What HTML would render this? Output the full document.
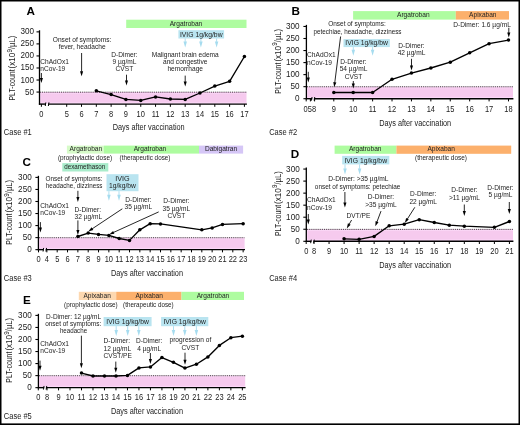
<!DOCTYPE html>
<html><head><meta charset="utf-8"><style>
html,body{margin:0;padding:0;background:#fff;}
body{width:520px;height:425px;overflow:hidden;}
svg{display:block;font-family:"Liberation Sans", sans-serif;will-change:transform;}
text{stroke:none;}
</style></head><body>
<svg width="520" height="425" viewBox="0 0 520 425">
<rect x="0" y="0" width="520" height="425" fill="#fff"/>
<g>
<text x="26.4" y="15.4" font-size="11.7" font-weight="bold" fill="#000">A</text>
<rect x="126.20" y="19.70" width="120.30" height="8.30" fill="#aefca0"/>
<text transform="translate(186.00,25.65) scale(1.03,1)" font-size="6.4" text-anchor="middle" fill="#222">Argatroban</text>
<rect x="178.40" y="30.20" width="45.70" height="8.30" fill="#b9e4f0"/>
<text x="179.95" y="37.00" font-size="6.7" fill="#222" textLength="42.60" lengthAdjust="spacingAndGlyphs">IVIG 1g/kg/bw</text>
<line x1="185.20" y1="38.50" x2="185.20" y2="41.90" stroke="#a6dcef" stroke-width="0.9" />
<polygon points="185.20,47.40 183.45,41.40 186.95,41.40" fill="#a6dcef"/>
<line x1="200.90" y1="38.50" x2="200.90" y2="41.90" stroke="#a6dcef" stroke-width="0.9" />
<polygon points="200.90,47.40 199.15,41.40 202.65,41.40" fill="#a6dcef"/>
<line x1="216.60" y1="38.50" x2="216.60" y2="41.90" stroke="#a6dcef" stroke-width="0.9" />
<polygon points="216.60,47.40 214.85,41.40 218.35,41.40" fill="#a6dcef"/>
<rect x="40.00" y="92.06" width="206.50" height="11.44" fill="#f6caee"/>
<rect x="40.10" y="102.30" width="206.40" height="1.10" fill="#fcd8f8"/>
<rect x="40.10" y="92.66" width="1.00" height="10.74" fill="#fcd8f8"/>
<rect x="40.10" y="92.76" width="206.40" height="0.80" fill="#fcd8f8"/>
<line x1="40.10" y1="92.16" x2="246.50" y2="92.16" stroke="#111" stroke-width="0.8" stroke-dasharray="1.0 0.9"/>
<line x1="39.50" y1="30.26" x2="39.50" y2="104.80" stroke="#000" stroke-width="1.3" />
<line x1="36.50" y1="92.06" x2="39.50" y2="92.06" stroke="#000" stroke-width="1.1" />
<text transform="translate(34.00,94.56) scale(0.97,1)" font-size="8.4" text-anchor="end" fill="#222">50</text>
<line x1="36.50" y1="80.02" x2="39.50" y2="80.02" stroke="#000" stroke-width="1.1" />
<text transform="translate(34.00,82.52) scale(0.97,1)" font-size="8.4" text-anchor="end" fill="#222">100</text>
<line x1="36.50" y1="67.98" x2="39.50" y2="67.98" stroke="#000" stroke-width="1.1" />
<text transform="translate(34.00,70.48) scale(0.97,1)" font-size="8.4" text-anchor="end" fill="#222">150</text>
<line x1="36.50" y1="55.94" x2="39.50" y2="55.94" stroke="#000" stroke-width="1.1" />
<text transform="translate(34.00,58.44) scale(0.97,1)" font-size="8.4" text-anchor="end" fill="#222">200</text>
<line x1="36.50" y1="43.90" x2="39.50" y2="43.90" stroke="#000" stroke-width="1.1" />
<text transform="translate(34.00,46.40) scale(0.97,1)" font-size="8.4" text-anchor="end" fill="#222">250</text>
<line x1="36.50" y1="31.86" x2="39.50" y2="31.86" stroke="#000" stroke-width="1.1" />
<text transform="translate(34.00,34.36) scale(0.97,1)" font-size="8.4" text-anchor="end" fill="#222">300</text>
<line x1="38.90" y1="104.10" x2="46.00" y2="104.10" stroke="#000" stroke-width="1.4" />
<line x1="48.10" y1="104.10" x2="246.90" y2="104.10" stroke="#000" stroke-width="1.4" />
<line x1="45.25" y1="106.00" x2="45.85" y2="102.40" stroke="#000" stroke-width="1.0" />
<line x1="48.35" y1="106.00" x2="48.95" y2="102.40" stroke="#000" stroke-width="1.0" />
<line x1="41.40" y1="104.10" x2="41.40" y2="106.80" stroke="#000" stroke-width="1.0" />
<text transform="translate(41.40,116.90) scale(0.88,1)" font-size="8.5" text-anchor="middle" fill="#222">0</text>
<line x1="66.70" y1="104.10" x2="66.70" y2="106.80" stroke="#000" stroke-width="1.0" />
<text transform="translate(66.70,116.90) scale(0.88,1)" font-size="8.5" text-anchor="middle" fill="#222">5</text>
<line x1="81.51" y1="104.10" x2="81.51" y2="106.80" stroke="#000" stroke-width="1.0" />
<text transform="translate(81.51,116.90) scale(0.88,1)" font-size="8.5" text-anchor="middle" fill="#222">6</text>
<line x1="96.32" y1="104.10" x2="96.32" y2="106.80" stroke="#000" stroke-width="1.0" />
<text transform="translate(96.32,116.90) scale(0.88,1)" font-size="8.5" text-anchor="middle" fill="#222">7</text>
<line x1="111.13" y1="104.10" x2="111.13" y2="106.80" stroke="#000" stroke-width="1.0" />
<text transform="translate(111.13,116.90) scale(0.88,1)" font-size="8.5" text-anchor="middle" fill="#222">8</text>
<line x1="125.94" y1="104.10" x2="125.94" y2="106.80" stroke="#000" stroke-width="1.0" />
<text transform="translate(125.94,116.90) scale(0.88,1)" font-size="8.5" text-anchor="middle" fill="#222">9</text>
<line x1="140.75" y1="104.10" x2="140.75" y2="106.80" stroke="#000" stroke-width="1.0" />
<text transform="translate(140.75,116.90) scale(0.88,1)" font-size="8.5" text-anchor="middle" fill="#222">10</text>
<line x1="155.56" y1="104.10" x2="155.56" y2="106.80" stroke="#000" stroke-width="1.0" />
<text transform="translate(155.56,116.90) scale(0.88,1)" font-size="8.5" text-anchor="middle" fill="#222">11</text>
<line x1="170.37" y1="104.10" x2="170.37" y2="106.80" stroke="#000" stroke-width="1.0" />
<text transform="translate(170.37,116.90) scale(0.88,1)" font-size="8.5" text-anchor="middle" fill="#222">12</text>
<line x1="185.18" y1="104.10" x2="185.18" y2="106.80" stroke="#000" stroke-width="1.0" />
<text transform="translate(185.18,116.90) scale(0.88,1)" font-size="8.5" text-anchor="middle" fill="#222">13</text>
<line x1="199.99" y1="104.10" x2="199.99" y2="106.80" stroke="#000" stroke-width="1.0" />
<text transform="translate(199.99,116.90) scale(0.88,1)" font-size="8.5" text-anchor="middle" fill="#222">14</text>
<line x1="214.80" y1="104.10" x2="214.80" y2="106.80" stroke="#000" stroke-width="1.0" />
<text transform="translate(214.80,116.90) scale(0.88,1)" font-size="8.5" text-anchor="middle" fill="#222">15</text>
<line x1="229.61" y1="104.10" x2="229.61" y2="106.80" stroke="#000" stroke-width="1.0" />
<text transform="translate(229.61,116.90) scale(0.88,1)" font-size="8.5" text-anchor="middle" fill="#222">16</text>
<line x1="244.42" y1="104.10" x2="244.42" y2="106.80" stroke="#000" stroke-width="1.0" />
<text transform="translate(244.42,116.90) scale(0.88,1)" font-size="8.5" text-anchor="middle" fill="#222">17</text>
<text transform="translate(14.90,100.50) rotate(-90)" font-size="8.5" fill="#222" textLength="31.10" lengthAdjust="spacingAndGlyphs">PLT-count</text>
<text transform="translate(14.90,68.40) rotate(-90)" font-size="8.5" fill="#222" textLength="15.70" lengthAdjust="spacingAndGlyphs">(x10</text>
<text transform="translate(11.50,52.50) rotate(-90)" font-size="6.6" fill="#222" textLength="3.50" lengthAdjust="spacingAndGlyphs">9</text>
<text transform="translate(14.90,49.00) rotate(-90)" font-size="8.5" fill="#222" textLength="13.30" lengthAdjust="spacingAndGlyphs">/µL)</text>
<text x="112.70" y="129.90" font-size="9.7" fill="#222" textLength="72.00" lengthAdjust="spacingAndGlyphs">Days after vaccination</text>
<text x="3.80" y="134.80" font-size="8.4" fill="#222" textLength="28.00" lengthAdjust="spacingAndGlyphs">Case #1</text>
<text transform="translate(82.10,41.50) scale(0.93,1)" font-size="7.1" text-anchor="middle" fill="#222">Onset of symptoms:</text>
<text transform="translate(82.10,48.80) scale(0.93,1)" font-size="7.1" text-anchor="middle" fill="#222">fever, headache</text>
<line x1="81.60" y1="53.00" x2="81.60" y2="71.70" stroke="#000" stroke-width="0.85" />
<polygon points="81.60,76.20 80.05,71.20 83.15,71.20" fill="#000"/>
<text transform="translate(40.30,63.50) scale(0.93,1)" font-size="7.1" text-anchor="start" fill="#222">ChAdOx1</text>
<text transform="translate(40.30,70.80) scale(0.93,1)" font-size="7.1" text-anchor="start" fill="#222">nCov-19</text>
<line x1="41.40" y1="73.00" x2="41.40" y2="78.50" stroke="#000" stroke-width="0.85" />
<polygon points="41.40,83.00 39.85,78.00 42.95,78.00" fill="#000"/>
<text transform="translate(124.40,56.50) scale(0.93,1)" font-size="7.1" text-anchor="middle" fill="#222">D-Dimer:</text>
<text transform="translate(124.40,63.80) scale(0.93,1)" font-size="7.1" text-anchor="middle" fill="#222">9 µg/mL</text>
<text transform="translate(124.40,71.10) scale(0.93,1)" font-size="7.1" text-anchor="middle" fill="#222">CVST</text>
<line x1="126.50" y1="74.70" x2="126.50" y2="81.00" stroke="#000" stroke-width="0.85" />
<polygon points="126.50,85.50 124.95,80.50 128.05,80.50" fill="#000"/>
<text transform="translate(185.20,56.60) scale(0.93,1)" font-size="7.1" text-anchor="middle" fill="#222">Malignant brain edema</text>
<text transform="translate(185.20,63.95) scale(0.93,1)" font-size="7.1" text-anchor="middle" fill="#222">and congestive</text>
<text transform="translate(185.20,71.30) scale(0.93,1)" font-size="7.1" text-anchor="middle" fill="#222">hemorrhage</text>
<line x1="185.20" y1="75.60" x2="185.20" y2="81.90" stroke="#000" stroke-width="0.85" />
<polygon points="185.20,86.40 183.65,81.40 186.75,81.40" fill="#000"/>
<polyline fill="none" stroke="#000" stroke-width="1.35" stroke-linejoin="round" points="96.32,90.80 111.13,94.60 125.94,99.40 140.75,100.40 155.56,96.90 170.37,99.00 185.18,99.40 199.99,93.00 214.80,86.10 229.61,81.30 244.42,56.50"/>
<circle cx="96.32" cy="90.80" r="1.75" fill="#000"/>
<circle cx="111.13" cy="94.60" r="1.75" fill="#000"/>
<circle cx="125.94" cy="99.40" r="1.75" fill="#000"/>
<circle cx="140.75" cy="100.40" r="1.75" fill="#000"/>
<circle cx="155.56" cy="96.90" r="1.75" fill="#000"/>
<circle cx="170.37" cy="99.00" r="1.75" fill="#000"/>
<circle cx="185.18" cy="99.40" r="1.75" fill="#000"/>
<circle cx="199.99" cy="93.00" r="1.75" fill="#000"/>
<circle cx="214.80" cy="86.10" r="1.75" fill="#000"/>
<circle cx="229.61" cy="81.30" r="1.75" fill="#000"/>
<circle cx="244.42" cy="56.50" r="1.75" fill="#000"/>
<text x="291.4" y="15.4" font-size="11.7" font-weight="bold" fill="#000">B</text>
<rect x="353.10" y="11.10" width="102.70" height="8.50" fill="#aefca0"/>
<text transform="translate(413.30,17.25) scale(1.03,1)" font-size="6.4" text-anchor="middle" fill="#222">Argatroban</text>
<rect x="455.80" y="11.10" width="53.20" height="8.50" fill="#fcb06c"/>
<text transform="translate(482.80,17.25) scale(1.03,1)" font-size="6.4" text-anchor="middle" fill="#222">Apixaban</text>
<rect x="343.50" y="39.10" width="46.30" height="8.00" fill="#b9e4f0"/>
<text x="345.35" y="44.80" font-size="6.7" fill="#222" textLength="42.60" lengthAdjust="spacingAndGlyphs">IVIG 1g/kg/bw</text>
<line x1="353.30" y1="47.10" x2="353.30" y2="50.30" stroke="#a6dcef" stroke-width="0.9" />
<polygon points="353.30,55.80 351.55,49.80 355.05,49.80" fill="#a6dcef"/>
<line x1="372.60" y1="47.10" x2="372.60" y2="50.30" stroke="#a6dcef" stroke-width="0.9" />
<polygon points="372.60,55.80 370.85,49.80 374.35,49.80" fill="#a6dcef"/>
<rect x="306.90" y="86.66" width="206.10" height="11.44" fill="#f6caee"/>
<rect x="307.00" y="96.90" width="206.00" height="1.10" fill="#fcd8f8"/>
<rect x="307.00" y="87.26" width="1.00" height="10.74" fill="#fcd8f8"/>
<rect x="307.00" y="87.36" width="206.00" height="0.80" fill="#fcd8f8"/>
<line x1="307.00" y1="86.76" x2="513.00" y2="86.76" stroke="#111" stroke-width="0.8" stroke-dasharray="1.0 0.9"/>
<line x1="306.40" y1="24.86" x2="306.40" y2="99.40" stroke="#000" stroke-width="1.3" />
<line x1="303.40" y1="98.70" x2="306.40" y2="98.70" stroke="#000" stroke-width="1.1" />
<text transform="translate(299.60,101.20) scale(0.97,1)" font-size="8.4" text-anchor="end" fill="#222">0</text>
<line x1="303.40" y1="86.66" x2="306.40" y2="86.66" stroke="#000" stroke-width="1.1" />
<text transform="translate(299.60,89.16) scale(0.97,1)" font-size="8.4" text-anchor="end" fill="#222">50</text>
<line x1="303.40" y1="74.62" x2="306.40" y2="74.62" stroke="#000" stroke-width="1.1" />
<text transform="translate(299.60,77.12) scale(0.97,1)" font-size="8.4" text-anchor="end" fill="#222">100</text>
<line x1="303.40" y1="62.58" x2="306.40" y2="62.58" stroke="#000" stroke-width="1.1" />
<text transform="translate(299.60,65.08) scale(0.97,1)" font-size="8.4" text-anchor="end" fill="#222">150</text>
<line x1="303.40" y1="50.54" x2="306.40" y2="50.54" stroke="#000" stroke-width="1.1" />
<text transform="translate(299.60,53.04) scale(0.97,1)" font-size="8.4" text-anchor="end" fill="#222">200</text>
<line x1="303.40" y1="38.50" x2="306.40" y2="38.50" stroke="#000" stroke-width="1.1" />
<text transform="translate(299.60,41.00) scale(0.97,1)" font-size="8.4" text-anchor="end" fill="#222">250</text>
<line x1="303.40" y1="26.46" x2="306.40" y2="26.46" stroke="#000" stroke-width="1.1" />
<text transform="translate(299.60,28.96) scale(0.97,1)" font-size="8.4" text-anchor="end" fill="#222">300</text>
<line x1="305.80" y1="98.70" x2="312.20" y2="98.70" stroke="#000" stroke-width="1.4" />
<line x1="313.90" y1="98.70" x2="513.40" y2="98.70" stroke="#000" stroke-width="1.4" />
<line x1="311.45" y1="100.60" x2="312.05" y2="97.00" stroke="#000" stroke-width="1.0" />
<line x1="314.15" y1="100.60" x2="314.75" y2="97.00" stroke="#000" stroke-width="1.0" />
<line x1="333.80" y1="98.70" x2="333.80" y2="101.40" stroke="#000" stroke-width="1.0" />
<text transform="translate(333.80,111.50) scale(0.88,1)" font-size="8.5" text-anchor="middle" fill="#222">9</text>
<line x1="353.21" y1="98.70" x2="353.21" y2="101.40" stroke="#000" stroke-width="1.0" />
<text transform="translate(353.21,111.50) scale(0.88,1)" font-size="8.5" text-anchor="middle" fill="#222">10</text>
<line x1="372.62" y1="98.70" x2="372.62" y2="101.40" stroke="#000" stroke-width="1.0" />
<text transform="translate(372.62,111.50) scale(0.88,1)" font-size="8.5" text-anchor="middle" fill="#222">11</text>
<line x1="392.03" y1="98.70" x2="392.03" y2="101.40" stroke="#000" stroke-width="1.0" />
<text transform="translate(392.03,111.50) scale(0.88,1)" font-size="8.5" text-anchor="middle" fill="#222">12</text>
<line x1="411.44" y1="98.70" x2="411.44" y2="101.40" stroke="#000" stroke-width="1.0" />
<text transform="translate(411.44,111.50) scale(0.88,1)" font-size="8.5" text-anchor="middle" fill="#222">13</text>
<line x1="430.85" y1="98.70" x2="430.85" y2="101.40" stroke="#000" stroke-width="1.0" />
<text transform="translate(430.85,111.50) scale(0.88,1)" font-size="8.5" text-anchor="middle" fill="#222">14</text>
<line x1="450.26" y1="98.70" x2="450.26" y2="101.40" stroke="#000" stroke-width="1.0" />
<text transform="translate(450.26,111.50) scale(0.88,1)" font-size="8.5" text-anchor="middle" fill="#222">15</text>
<line x1="469.67" y1="98.70" x2="469.67" y2="101.40" stroke="#000" stroke-width="1.0" />
<text transform="translate(469.67,111.50) scale(0.88,1)" font-size="8.5" text-anchor="middle" fill="#222">16</text>
<line x1="489.08" y1="98.70" x2="489.08" y2="101.40" stroke="#000" stroke-width="1.0" />
<text transform="translate(489.08,111.50) scale(0.88,1)" font-size="8.5" text-anchor="middle" fill="#222">17</text>
<line x1="508.49" y1="98.70" x2="508.49" y2="101.40" stroke="#000" stroke-width="1.0" />
<text transform="translate(508.49,111.50) scale(0.88,1)" font-size="8.5" text-anchor="middle" fill="#222">18</text>
<line x1="306.20" y1="98.70" x2="306.20" y2="101.40" stroke="#000" stroke-width="1.0" />
<text transform="translate(306.20,111.50) scale(0.88,1)" font-size="8.5" text-anchor="middle" fill="#222"></text>
<line x1="310.40" y1="98.70" x2="310.40" y2="101.40" stroke="#000" stroke-width="1.0" />
<text transform="translate(310.40,111.50) scale(0.88,1)" font-size="8.5" text-anchor="middle" fill="#222"></text>
<line x1="314.60" y1="98.70" x2="314.60" y2="101.40" stroke="#000" stroke-width="1.0" />
<text transform="translate(314.60,111.50) scale(0.88,1)" font-size="8.5" text-anchor="middle" fill="#222"></text>
<text transform="translate(280.50,93.70) rotate(-90)" font-size="8.5" fill="#222" textLength="31.10" lengthAdjust="spacingAndGlyphs">PLT-count</text>
<text transform="translate(280.50,61.60) rotate(-90)" font-size="8.5" fill="#222" textLength="15.70" lengthAdjust="spacingAndGlyphs">(x10</text>
<text transform="translate(277.10,45.70) rotate(-90)" font-size="6.6" fill="#222" textLength="3.50" lengthAdjust="spacingAndGlyphs">9</text>
<text transform="translate(280.50,42.20) rotate(-90)" font-size="8.5" fill="#222" textLength="13.30" lengthAdjust="spacingAndGlyphs">/µL)</text>
<text x="379.20" y="125.50" font-size="9.7" fill="#222" textLength="72.00" lengthAdjust="spacingAndGlyphs">Days after vaccination</text>
<text x="269.20" y="135.00" font-size="8.4" fill="#222" textLength="28.00" lengthAdjust="spacingAndGlyphs">Case #2</text>
<text transform="translate(309.80,111.50) scale(0.88,1)" font-size="8.5" text-anchor="middle" fill="#222">058</text>
<text x="328.20" y="26.00" font-size="7.1" fill="#222" textLength="57.60" lengthAdjust="spacingAndGlyphs">Onset of symptoms:</text>
<text x="313.50" y="33.50" font-size="7.1" fill="#222" textLength="88.00" lengthAdjust="spacingAndGlyphs">petechiae, headache, dizziness</text>
<line x1="340.60" y1="36.50" x2="334.76" y2="82.74" stroke="#000" stroke-width="0.85" />
<polygon points="334.20,87.20 333.29,82.05 336.36,82.43" fill="#000"/>
<text transform="translate(307.10,57.00) scale(0.93,1)" font-size="7.1" text-anchor="start" fill="#222">ChAdOx1</text>
<text transform="translate(307.10,64.80) scale(0.93,1)" font-size="7.1" text-anchor="start" fill="#222">nCov-19</text>
<line x1="308.30" y1="71.80" x2="308.30" y2="77.90" stroke="#000" stroke-width="0.85" />
<polygon points="308.30,82.40 306.75,77.40 309.85,77.40" fill="#000"/>
<text transform="translate(353.50,63.90) scale(0.93,1)" font-size="7.1" text-anchor="middle" fill="#222">D-Dimer:</text>
<text transform="translate(353.50,71.20) scale(0.93,1)" font-size="7.1" text-anchor="middle" fill="#222">54 µg/mL</text>
<text transform="translate(353.50,78.50) scale(0.93,1)" font-size="7.1" text-anchor="middle" fill="#222">CVST</text>
<line x1="353.30" y1="81.00" x2="353.30" y2="84.00" stroke="#000" stroke-width="0.85" />
<polygon points="353.30,88.50 351.75,83.50 354.85,83.50" fill="#000"/>
<text transform="translate(411.50,47.50) scale(0.93,1)" font-size="7.1" text-anchor="middle" fill="#222">D-Dimer:</text>
<text transform="translate(411.50,55.10) scale(0.93,1)" font-size="7.1" text-anchor="middle" fill="#222">42 µg/mL</text>
<line x1="411.50" y1="58.80" x2="411.50" y2="66.10" stroke="#000" stroke-width="0.85" />
<polygon points="411.50,70.60 409.95,65.60 413.05,65.60" fill="#000"/>
<text transform="translate(482.00,26.80) scale(0.93,1)" font-size="7.1" text-anchor="middle" fill="#222">D-Dimer: 1.6 µg/mL</text>
<line x1="508.80" y1="27.80" x2="508.80" y2="33.10" stroke="#000" stroke-width="0.85" />
<polygon points="508.80,37.60 507.25,32.60 510.35,32.60" fill="#000"/>
<polyline fill="none" stroke="#000" stroke-width="1.35" stroke-linejoin="round" points="333.80,92.50 353.21,92.50 372.62,92.50 392.03,79.30 411.44,73.10 430.85,68.00 450.26,62.20 469.67,52.80 489.08,43.70 508.49,40.10"/>
<circle cx="333.80" cy="92.50" r="1.75" fill="#000"/>
<circle cx="353.21" cy="92.50" r="1.75" fill="#000"/>
<circle cx="372.62" cy="92.50" r="1.75" fill="#000"/>
<circle cx="392.03" cy="79.30" r="1.75" fill="#000"/>
<circle cx="411.44" cy="73.10" r="1.75" fill="#000"/>
<circle cx="430.85" cy="68.00" r="1.75" fill="#000"/>
<circle cx="450.26" cy="62.20" r="1.75" fill="#000"/>
<circle cx="469.67" cy="52.80" r="1.75" fill="#000"/>
<circle cx="489.08" cy="43.70" r="1.75" fill="#000"/>
<circle cx="508.49" cy="40.10" r="1.75" fill="#000"/>
<text x="22.6" y="166.3" font-size="11.7" font-weight="bold" fill="#000">C</text>
<rect x="66.90" y="145.60" width="36.90" height="8.00" fill="#d6fbc8"/>
<text transform="translate(85.90,151.25) scale(1.03,1)" font-size="6.4" text-anchor="middle" fill="#222">Argatroban</text>
<rect x="103.80" y="145.60" width="95.20" height="8.00" fill="#aefca0"/>
<text transform="translate(150.00,151.25) scale(1.03,1)" font-size="6.4" text-anchor="middle" fill="#222">Argatroban</text>
<rect x="199.00" y="145.60" width="44.10" height="8.00" fill="#d5c6f6"/>
<text transform="translate(221.05,151.25) scale(1.03,1)" font-size="6.4" text-anchor="middle" fill="#222">Dabigatran</text>
<text x="57.90" y="160.10" font-size="7.1" fill="#222" textLength="54.20" lengthAdjust="spacingAndGlyphs">(prophylactic dose)</text>
<text x="119.60" y="160.10" font-size="7.1" fill="#222" textLength="50.80" lengthAdjust="spacingAndGlyphs">(therapeutic dose)</text>
<rect x="62.30" y="163.10" width="46.00" height="8.40" fill="#a9eccb"/>
<text x="64.30" y="168.90" font-size="6.6" fill="#222" textLength="41.00" lengthAdjust="spacingAndGlyphs">dexamethason</text>
<rect x="106.50" y="174.20" width="32.00" height="17.00" fill="#b9e4f0"/>
<text x="115.25" y="181.20" font-size="6.7" fill="#222" textLength="14.50" lengthAdjust="spacingAndGlyphs">IVIG</text>
<text x="109.00" y="188.30" font-size="6.7" fill="#222" textLength="27.00" lengthAdjust="spacingAndGlyphs">1g/kg/bw</text>
<line x1="108.90" y1="191.20" x2="108.90" y2="195.20" stroke="#a6dcef" stroke-width="0.9" />
<polygon points="108.90,200.70 107.15,194.70 110.65,194.70" fill="#a6dcef"/>
<line x1="119.00" y1="191.20" x2="119.00" y2="195.20" stroke="#a6dcef" stroke-width="0.9" />
<polygon points="119.00,200.70 117.25,194.70 120.75,194.70" fill="#a6dcef"/>
<rect x="38.90" y="237.61" width="205.70" height="11.44" fill="#f6caee"/>
<rect x="39.00" y="247.85" width="205.60" height="1.10" fill="#fcd8f8"/>
<rect x="39.00" y="238.21" width="1.00" height="10.74" fill="#fcd8f8"/>
<rect x="39.00" y="238.31" width="205.60" height="0.80" fill="#fcd8f8"/>
<line x1="39.00" y1="237.71" x2="244.60" y2="237.71" stroke="#111" stroke-width="0.8" stroke-dasharray="1.0 0.9"/>
<line x1="38.40" y1="175.81" x2="38.40" y2="250.35" stroke="#000" stroke-width="1.3" />
<line x1="35.40" y1="249.65" x2="38.40" y2="249.65" stroke="#000" stroke-width="1.1" />
<text transform="translate(31.70,252.15) scale(0.97,1)" font-size="8.4" text-anchor="end" fill="#222">0</text>
<line x1="35.40" y1="237.61" x2="38.40" y2="237.61" stroke="#000" stroke-width="1.1" />
<text transform="translate(31.70,240.11) scale(0.97,1)" font-size="8.4" text-anchor="end" fill="#222">50</text>
<line x1="35.40" y1="225.57" x2="38.40" y2="225.57" stroke="#000" stroke-width="1.1" />
<text transform="translate(31.70,228.07) scale(0.97,1)" font-size="8.4" text-anchor="end" fill="#222">100</text>
<line x1="35.40" y1="213.53" x2="38.40" y2="213.53" stroke="#000" stroke-width="1.1" />
<text transform="translate(31.70,216.03) scale(0.97,1)" font-size="8.4" text-anchor="end" fill="#222">150</text>
<line x1="35.40" y1="201.49" x2="38.40" y2="201.49" stroke="#000" stroke-width="1.1" />
<text transform="translate(31.70,203.99) scale(0.97,1)" font-size="8.4" text-anchor="end" fill="#222">200</text>
<line x1="35.40" y1="189.45" x2="38.40" y2="189.45" stroke="#000" stroke-width="1.1" />
<text transform="translate(31.70,191.95) scale(0.97,1)" font-size="8.4" text-anchor="end" fill="#222">250</text>
<line x1="35.40" y1="177.41" x2="38.40" y2="177.41" stroke="#000" stroke-width="1.1" />
<text transform="translate(31.70,179.91) scale(0.97,1)" font-size="8.4" text-anchor="end" fill="#222">300</text>
<line x1="37.80" y1="249.65" x2="43.80" y2="249.65" stroke="#000" stroke-width="1.4" />
<line x1="45.70" y1="249.65" x2="245.00" y2="249.65" stroke="#000" stroke-width="1.4" />
<line x1="43.05" y1="251.55" x2="43.65" y2="247.95" stroke="#000" stroke-width="1.0" />
<line x1="45.95" y1="251.55" x2="46.55" y2="247.95" stroke="#000" stroke-width="1.0" />
<line x1="38.50" y1="249.65" x2="38.50" y2="252.35" stroke="#000" stroke-width="1.0" />
<text transform="translate(38.50,262.45) scale(0.88,1)" font-size="8.5" text-anchor="middle" fill="#222">0</text>
<line x1="46.87" y1="249.65" x2="46.87" y2="252.35" stroke="#000" stroke-width="1.0" />
<text transform="translate(46.87,262.45) scale(0.88,1)" font-size="8.5" text-anchor="middle" fill="#222">4</text>
<line x1="57.20" y1="249.65" x2="57.20" y2="252.35" stroke="#000" stroke-width="1.0" />
<text transform="translate(57.20,262.45) scale(0.88,1)" font-size="8.5" text-anchor="middle" fill="#222">5</text>
<line x1="67.53" y1="249.65" x2="67.53" y2="252.35" stroke="#000" stroke-width="1.0" />
<text transform="translate(67.53,262.45) scale(0.88,1)" font-size="8.5" text-anchor="middle" fill="#222">6</text>
<line x1="77.86" y1="249.65" x2="77.86" y2="252.35" stroke="#000" stroke-width="1.0" />
<text transform="translate(77.86,262.45) scale(0.88,1)" font-size="8.5" text-anchor="middle" fill="#222">7</text>
<line x1="88.19" y1="249.65" x2="88.19" y2="252.35" stroke="#000" stroke-width="1.0" />
<text transform="translate(88.19,262.45) scale(0.88,1)" font-size="8.5" text-anchor="middle" fill="#222">8</text>
<line x1="98.52" y1="249.65" x2="98.52" y2="252.35" stroke="#000" stroke-width="1.0" />
<text transform="translate(98.52,262.45) scale(0.88,1)" font-size="8.5" text-anchor="middle" fill="#222">9</text>
<line x1="108.85" y1="249.65" x2="108.85" y2="252.35" stroke="#000" stroke-width="1.0" />
<text transform="translate(108.85,262.45) scale(0.88,1)" font-size="8.5" text-anchor="middle" fill="#222">10</text>
<line x1="119.18" y1="249.65" x2="119.18" y2="252.35" stroke="#000" stroke-width="1.0" />
<text transform="translate(119.18,262.45) scale(0.88,1)" font-size="8.5" text-anchor="middle" fill="#222">11</text>
<line x1="129.51" y1="249.65" x2="129.51" y2="252.35" stroke="#000" stroke-width="1.0" />
<text transform="translate(129.51,262.45) scale(0.88,1)" font-size="8.5" text-anchor="middle" fill="#222">12</text>
<line x1="139.84" y1="249.65" x2="139.84" y2="252.35" stroke="#000" stroke-width="1.0" />
<text transform="translate(139.84,262.45) scale(0.88,1)" font-size="8.5" text-anchor="middle" fill="#222">13</text>
<line x1="150.17" y1="249.65" x2="150.17" y2="252.35" stroke="#000" stroke-width="1.0" />
<text transform="translate(150.17,262.45) scale(0.88,1)" font-size="8.5" text-anchor="middle" fill="#222">14</text>
<line x1="160.50" y1="249.65" x2="160.50" y2="252.35" stroke="#000" stroke-width="1.0" />
<text transform="translate(160.50,262.45) scale(0.88,1)" font-size="8.5" text-anchor="middle" fill="#222">15</text>
<line x1="170.83" y1="249.65" x2="170.83" y2="252.35" stroke="#000" stroke-width="1.0" />
<text transform="translate(170.83,262.45) scale(0.88,1)" font-size="8.5" text-anchor="middle" fill="#222">16</text>
<line x1="181.16" y1="249.65" x2="181.16" y2="252.35" stroke="#000" stroke-width="1.0" />
<text transform="translate(181.16,262.45) scale(0.88,1)" font-size="8.5" text-anchor="middle" fill="#222">17</text>
<line x1="191.49" y1="249.65" x2="191.49" y2="252.35" stroke="#000" stroke-width="1.0" />
<text transform="translate(191.49,262.45) scale(0.88,1)" font-size="8.5" text-anchor="middle" fill="#222">18</text>
<line x1="201.82" y1="249.65" x2="201.82" y2="252.35" stroke="#000" stroke-width="1.0" />
<text transform="translate(201.82,262.45) scale(0.88,1)" font-size="8.5" text-anchor="middle" fill="#222">19</text>
<line x1="212.15" y1="249.65" x2="212.15" y2="252.35" stroke="#000" stroke-width="1.0" />
<text transform="translate(212.15,262.45) scale(0.88,1)" font-size="8.5" text-anchor="middle" fill="#222">20</text>
<line x1="222.48" y1="249.65" x2="222.48" y2="252.35" stroke="#000" stroke-width="1.0" />
<text transform="translate(222.48,262.45) scale(0.88,1)" font-size="8.5" text-anchor="middle" fill="#222">21</text>
<line x1="232.81" y1="249.65" x2="232.81" y2="252.35" stroke="#000" stroke-width="1.0" />
<text transform="translate(232.81,262.45) scale(0.88,1)" font-size="8.5" text-anchor="middle" fill="#222">22</text>
<line x1="243.14" y1="249.65" x2="243.14" y2="252.35" stroke="#000" stroke-width="1.0" />
<text transform="translate(243.14,262.45) scale(0.88,1)" font-size="8.5" text-anchor="middle" fill="#222">23</text>
<text transform="translate(12.10,244.70) rotate(-90)" font-size="8.5" fill="#222" textLength="31.10" lengthAdjust="spacingAndGlyphs">PLT-count</text>
<text transform="translate(12.10,212.60) rotate(-90)" font-size="8.5" fill="#222" textLength="15.70" lengthAdjust="spacingAndGlyphs">(x10</text>
<text transform="translate(8.70,196.70) rotate(-90)" font-size="6.6" fill="#222" textLength="3.50" lengthAdjust="spacingAndGlyphs">9</text>
<text transform="translate(12.10,193.20) rotate(-90)" font-size="8.5" fill="#222" textLength="13.30" lengthAdjust="spacingAndGlyphs">/µL)</text>
<text x="111.00" y="275.80" font-size="9.7" fill="#222" textLength="72.00" lengthAdjust="spacingAndGlyphs">Days after vaccination</text>
<text x="3.80" y="281.00" font-size="8.4" fill="#222" textLength="28.00" lengthAdjust="spacingAndGlyphs">Case #3</text>
<text x="45.50" y="180.80" font-size="7.1" fill="#222" textLength="57.00" lengthAdjust="spacingAndGlyphs">Onset of symptoms:</text>
<text x="45.80" y="187.80" font-size="7.1" fill="#222" textLength="56.60" lengthAdjust="spacingAndGlyphs">headache, dizziness</text>
<line x1="77.90" y1="190.80" x2="77.90" y2="197.50" stroke="#000" stroke-width="0.85" />
<polygon points="77.90,202.00 76.35,197.00 79.45,197.00" fill="#000"/>
<text transform="translate(40.30,207.80) scale(0.93,1)" font-size="7.1" text-anchor="start" fill="#222">ChAdOx1</text>
<text transform="translate(40.30,215.10) scale(0.93,1)" font-size="7.1" text-anchor="start" fill="#222">nCov-19</text>
<line x1="40.40" y1="222.10" x2="40.40" y2="228.10" stroke="#000" stroke-width="0.85" />
<polygon points="40.40,232.60 38.85,227.60 41.95,227.60" fill="#000"/>
<text transform="translate(74.60,211.60) scale(0.93,1)" font-size="7.1" text-anchor="start" fill="#222">D-Dimer:</text>
<text transform="translate(74.60,218.60) scale(0.93,1)" font-size="7.1" text-anchor="start" fill="#222">32 µg/mL</text>
<line x1="77.90" y1="220.40" x2="77.90" y2="230.50" stroke="#000" stroke-width="0.85" />
<polygon points="77.90,235.00 76.35,230.00 79.45,230.00" fill="#000"/>
<text transform="translate(138.40,202.00) scale(0.93,1)" font-size="7.1" text-anchor="middle" fill="#222">D-Dimer:</text>
<text transform="translate(138.40,209.40) scale(0.93,1)" font-size="7.1" text-anchor="middle" fill="#222">35 µg/mL</text>
<line x1="122.30" y1="208.80" x2="92.05" y2="228.91" stroke="#000" stroke-width="0.85" />
<polygon points="88.30,231.40 91.61,227.34 93.32,229.92" fill="#000"/>
<text transform="translate(176.40,203.40) scale(0.93,1)" font-size="7.1" text-anchor="middle" fill="#222">D-Dimer:</text>
<text transform="translate(176.40,210.70) scale(0.93,1)" font-size="7.1" text-anchor="middle" fill="#222">35 µg/mL</text>
<text transform="translate(176.40,218.00) scale(0.93,1)" font-size="7.1" text-anchor="middle" fill="#222">CVST</text>
<line x1="158.70" y1="211.90" x2="113.30" y2="232.54" stroke="#000" stroke-width="0.85" />
<polygon points="109.20,234.40 113.11,230.92 114.39,233.74" fill="#000"/>
<polyline fill="none" stroke="#000" stroke-width="1.35" stroke-linejoin="round" points="77.86,236.50 88.19,233.10 98.52,234.40 108.85,235.40 119.18,238.50 129.51,240.40 139.84,229.80 150.17,223.70 160.50,223.90 201.82,229.80 212.15,227.90 222.48,224.40 243.14,223.70"/>
<circle cx="77.86" cy="236.50" r="1.75" fill="#000"/>
<circle cx="88.19" cy="233.10" r="1.75" fill="#000"/>
<circle cx="98.52" cy="234.40" r="1.75" fill="#000"/>
<circle cx="108.85" cy="235.40" r="1.75" fill="#000"/>
<circle cx="119.18" cy="238.50" r="1.75" fill="#000"/>
<circle cx="129.51" cy="240.40" r="1.75" fill="#000"/>
<circle cx="139.84" cy="229.80" r="1.75" fill="#000"/>
<circle cx="150.17" cy="223.70" r="1.75" fill="#000"/>
<circle cx="160.50" cy="223.90" r="1.75" fill="#000"/>
<circle cx="201.82" cy="229.80" r="1.75" fill="#000"/>
<circle cx="212.15" cy="227.90" r="1.75" fill="#000"/>
<circle cx="222.48" cy="224.40" r="1.75" fill="#000"/>
<circle cx="243.14" cy="223.70" r="1.75" fill="#000"/>
<text x="290.8" y="157.8" font-size="11.7" font-weight="bold" fill="#000">D</text>
<rect x="334.60" y="145.60" width="61.80" height="8.20" fill="#aefca0"/>
<text transform="translate(365.20,151.45) scale(1.03,1)" font-size="6.4" text-anchor="middle" fill="#222">Argatroban</text>
<rect x="396.40" y="145.60" width="114.80" height="8.20" fill="#fcb06c"/>
<text transform="translate(441.20,151.45) scale(1.03,1)" font-size="6.4" text-anchor="middle" fill="#222">Apixaban</text>
<text x="415.00" y="160.20" font-size="7.1" fill="#222" textLength="52.00" lengthAdjust="spacingAndGlyphs">(therapeutic dose)</text>
<rect x="342.20" y="155.90" width="47.10" height="8.50" fill="#b9e4f0"/>
<text x="344.45" y="162.50" font-size="6.7" fill="#222" textLength="42.60" lengthAdjust="spacingAndGlyphs">IVIG 1g/kg/bw</text>
<line x1="345.00" y1="164.40" x2="345.00" y2="168.90" stroke="#a6dcef" stroke-width="0.9" />
<polygon points="345.00,174.40 343.25,168.40 346.75,168.40" fill="#a6dcef"/>
<line x1="359.60" y1="164.40" x2="359.60" y2="168.90" stroke="#a6dcef" stroke-width="0.9" />
<polygon points="359.60,174.40 357.85,168.40 361.35,168.40" fill="#a6dcef"/>
<rect x="306.80" y="229.26" width="206.20" height="11.44" fill="#f6caee"/>
<rect x="306.90" y="239.50" width="206.10" height="1.10" fill="#fcd8f8"/>
<rect x="306.90" y="229.86" width="1.00" height="10.74" fill="#fcd8f8"/>
<rect x="306.90" y="229.96" width="206.10" height="0.80" fill="#fcd8f8"/>
<line x1="306.90" y1="229.36" x2="513.00" y2="229.36" stroke="#111" stroke-width="0.8" stroke-dasharray="1.0 0.9"/>
<line x1="306.30" y1="167.46" x2="306.30" y2="242.00" stroke="#000" stroke-width="1.3" />
<line x1="303.30" y1="241.30" x2="306.30" y2="241.30" stroke="#000" stroke-width="1.1" />
<text transform="translate(299.70,243.80) scale(0.97,1)" font-size="8.4" text-anchor="end" fill="#222">0</text>
<line x1="303.30" y1="229.26" x2="306.30" y2="229.26" stroke="#000" stroke-width="1.1" />
<text transform="translate(299.70,231.76) scale(0.97,1)" font-size="8.4" text-anchor="end" fill="#222">50</text>
<line x1="303.30" y1="217.22" x2="306.30" y2="217.22" stroke="#000" stroke-width="1.1" />
<text transform="translate(299.70,219.72) scale(0.97,1)" font-size="8.4" text-anchor="end" fill="#222">100</text>
<line x1="303.30" y1="205.18" x2="306.30" y2="205.18" stroke="#000" stroke-width="1.1" />
<text transform="translate(299.70,207.68) scale(0.97,1)" font-size="8.4" text-anchor="end" fill="#222">150</text>
<line x1="303.30" y1="193.14" x2="306.30" y2="193.14" stroke="#000" stroke-width="1.1" />
<text transform="translate(299.70,195.64) scale(0.97,1)" font-size="8.4" text-anchor="end" fill="#222">200</text>
<line x1="303.30" y1="181.10" x2="306.30" y2="181.10" stroke="#000" stroke-width="1.1" />
<text transform="translate(299.70,183.60) scale(0.97,1)" font-size="8.4" text-anchor="end" fill="#222">250</text>
<line x1="303.30" y1="169.06" x2="306.30" y2="169.06" stroke="#000" stroke-width="1.1" />
<text transform="translate(299.70,171.56) scale(0.97,1)" font-size="8.4" text-anchor="end" fill="#222">300</text>
<line x1="305.70" y1="241.30" x2="311.40" y2="241.30" stroke="#000" stroke-width="1.4" />
<line x1="313.40" y1="241.30" x2="513.40" y2="241.30" stroke="#000" stroke-width="1.4" />
<line x1="310.65" y1="243.20" x2="311.25" y2="239.60" stroke="#000" stroke-width="1.0" />
<line x1="313.65" y1="243.20" x2="314.25" y2="239.60" stroke="#000" stroke-width="1.0" />
<line x1="306.20" y1="241.30" x2="306.20" y2="244.00" stroke="#000" stroke-width="1.0" />
<text transform="translate(306.20,254.10) scale(0.88,1)" font-size="8.5" text-anchor="middle" fill="#222">0</text>
<line x1="314.02" y1="241.30" x2="314.02" y2="244.00" stroke="#000" stroke-width="1.0" />
<text transform="translate(314.02,254.10) scale(0.88,1)" font-size="8.5" text-anchor="middle" fill="#222">8</text>
<line x1="329.05" y1="241.30" x2="329.05" y2="244.00" stroke="#000" stroke-width="1.0" />
<text transform="translate(329.05,254.10) scale(0.88,1)" font-size="8.5" text-anchor="middle" fill="#222">9</text>
<line x1="344.08" y1="241.30" x2="344.08" y2="244.00" stroke="#000" stroke-width="1.0" />
<text transform="translate(344.08,254.10) scale(0.88,1)" font-size="8.5" text-anchor="middle" fill="#222">10</text>
<line x1="359.11" y1="241.30" x2="359.11" y2="244.00" stroke="#000" stroke-width="1.0" />
<text transform="translate(359.11,254.10) scale(0.88,1)" font-size="8.5" text-anchor="middle" fill="#222">11</text>
<line x1="374.14" y1="241.30" x2="374.14" y2="244.00" stroke="#000" stroke-width="1.0" />
<text transform="translate(374.14,254.10) scale(0.88,1)" font-size="8.5" text-anchor="middle" fill="#222">12</text>
<line x1="389.17" y1="241.30" x2="389.17" y2="244.00" stroke="#000" stroke-width="1.0" />
<text transform="translate(389.17,254.10) scale(0.88,1)" font-size="8.5" text-anchor="middle" fill="#222">13</text>
<line x1="404.20" y1="241.30" x2="404.20" y2="244.00" stroke="#000" stroke-width="1.0" />
<text transform="translate(404.20,254.10) scale(0.88,1)" font-size="8.5" text-anchor="middle" fill="#222">14</text>
<line x1="419.23" y1="241.30" x2="419.23" y2="244.00" stroke="#000" stroke-width="1.0" />
<text transform="translate(419.23,254.10) scale(0.88,1)" font-size="8.5" text-anchor="middle" fill="#222">15</text>
<line x1="434.26" y1="241.30" x2="434.26" y2="244.00" stroke="#000" stroke-width="1.0" />
<text transform="translate(434.26,254.10) scale(0.88,1)" font-size="8.5" text-anchor="middle" fill="#222">16</text>
<line x1="449.29" y1="241.30" x2="449.29" y2="244.00" stroke="#000" stroke-width="1.0" />
<text transform="translate(449.29,254.10) scale(0.88,1)" font-size="8.5" text-anchor="middle" fill="#222">17</text>
<line x1="464.32" y1="241.30" x2="464.32" y2="244.00" stroke="#000" stroke-width="1.0" />
<text transform="translate(464.32,254.10) scale(0.88,1)" font-size="8.5" text-anchor="middle" fill="#222">18</text>
<line x1="479.35" y1="241.30" x2="479.35" y2="244.00" stroke="#000" stroke-width="1.0" />
<text transform="translate(479.35,254.10) scale(0.88,1)" font-size="8.5" text-anchor="middle" fill="#222">19</text>
<line x1="494.38" y1="241.30" x2="494.38" y2="244.00" stroke="#000" stroke-width="1.0" />
<text transform="translate(494.38,254.10) scale(0.88,1)" font-size="8.5" text-anchor="middle" fill="#222">20</text>
<line x1="509.41" y1="241.30" x2="509.41" y2="244.00" stroke="#000" stroke-width="1.0" />
<text transform="translate(509.41,254.10) scale(0.88,1)" font-size="8.5" text-anchor="middle" fill="#222">21</text>
<text transform="translate(280.50,236.00) rotate(-90)" font-size="8.5" fill="#222" textLength="31.10" lengthAdjust="spacingAndGlyphs">PLT-count</text>
<text transform="translate(280.50,203.90) rotate(-90)" font-size="8.5" fill="#222" textLength="15.70" lengthAdjust="spacingAndGlyphs">(x10</text>
<text transform="translate(277.10,188.00) rotate(-90)" font-size="6.6" fill="#222" textLength="3.50" lengthAdjust="spacingAndGlyphs">9</text>
<text transform="translate(280.50,184.50) rotate(-90)" font-size="8.5" fill="#222" textLength="13.30" lengthAdjust="spacingAndGlyphs">/µL)</text>
<text x="379.20" y="267.50" font-size="9.7" fill="#222" textLength="72.00" lengthAdjust="spacingAndGlyphs">Days after vaccination</text>
<text x="269.20" y="281.00" font-size="8.4" fill="#222" textLength="28.00" lengthAdjust="spacingAndGlyphs">Case #4</text>
<text x="328.30" y="181.10" font-size="7.1" fill="#222" textLength="60.20" lengthAdjust="spacingAndGlyphs">D-Dimer: &gt;35 µg/mL</text>
<text x="314.80" y="188.70" font-size="7.1" fill="#222" textLength="85.60" lengthAdjust="spacingAndGlyphs">onset of symptoms: petechiae</text>
<line x1="344.90" y1="192.00" x2="344.90" y2="202.90" stroke="#000" stroke-width="0.85" />
<polygon points="344.90,207.40 343.35,202.40 346.45,202.40" fill="#000"/>
<text transform="translate(307.10,202.20) scale(0.93,1)" font-size="7.1" text-anchor="start" fill="#222">ChAdOx1</text>
<text transform="translate(307.10,209.90) scale(0.93,1)" font-size="7.1" text-anchor="start" fill="#222">nCov-19</text>
<line x1="308.30" y1="214.00" x2="308.30" y2="220.00" stroke="#000" stroke-width="0.85" />
<polygon points="308.30,224.50 306.75,219.50 309.85,219.50" fill="#000"/>
<text transform="translate(358.40,217.60) scale(0.93,1)" font-size="7.1" text-anchor="middle" fill="#222">DVT/PE</text>
<line x1="351.60" y1="220.00" x2="349.03" y2="224.49" stroke="#000" stroke-width="0.85" />
<polygon points="346.80,228.40 347.93,223.29 350.63,224.83" fill="#000"/>
<text transform="translate(381.00,199.40) scale(0.93,1)" font-size="7.1" text-anchor="middle" fill="#222">D-Dimer:</text>
<text transform="translate(381.00,207.00) scale(0.93,1)" font-size="7.1" text-anchor="middle" fill="#222">&gt;35 µg/mL</text>
<line x1="381.00" y1="211.10" x2="376.88" y2="222.09" stroke="#000" stroke-width="0.85" />
<polygon points="375.30,226.30 375.60,221.07 378.51,222.16" fill="#000"/>
<text transform="translate(423.20,196.00) scale(0.93,1)" font-size="7.1" text-anchor="middle" fill="#222">D-Dimer:</text>
<text transform="translate(423.20,203.50) scale(0.93,1)" font-size="7.1" text-anchor="middle" fill="#222">22 µg/mL</text>
<line x1="414.80" y1="207.30" x2="407.22" y2="219.20" stroke="#000" stroke-width="0.85" />
<polygon points="404.80,223.00 406.18,217.95 408.79,219.62" fill="#000"/>
<text transform="translate(464.50,191.80) scale(0.93,1)" font-size="7.1" text-anchor="middle" fill="#222">D-Dimer:</text>
<text transform="translate(464.50,199.60) scale(0.93,1)" font-size="7.1" text-anchor="middle" fill="#222">&gt;11 µg/mL</text>
<line x1="464.30" y1="204.50" x2="464.30" y2="211.50" stroke="#000" stroke-width="0.85" />
<polygon points="464.30,216.00 462.75,211.00 465.85,211.00" fill="#000"/>
<text transform="translate(500.50,189.60) scale(0.93,1)" font-size="7.1" text-anchor="middle" fill="#222">D-Dimer:</text>
<text transform="translate(500.50,197.40) scale(0.93,1)" font-size="7.1" text-anchor="middle" fill="#222">5 µg/mL</text>
<line x1="509.30" y1="202.00" x2="509.30" y2="209.50" stroke="#000" stroke-width="0.85" />
<polygon points="509.30,214.00 507.75,209.00 510.85,209.00" fill="#000"/>
<polyline fill="none" stroke="#000" stroke-width="1.35" stroke-linejoin="round" points="344.08,238.80 359.11,239.30 374.14,236.40 389.17,225.80 404.20,224.20 419.23,219.70 434.26,222.50 449.29,225.20 464.32,226.20 494.38,227.30 509.41,221.50"/>
<circle cx="344.08" cy="238.80" r="1.75" fill="#000"/>
<circle cx="359.11" cy="239.30" r="1.75" fill="#000"/>
<circle cx="374.14" cy="236.40" r="1.75" fill="#000"/>
<circle cx="389.17" cy="225.80" r="1.75" fill="#000"/>
<circle cx="404.20" cy="224.20" r="1.75" fill="#000"/>
<circle cx="419.23" cy="219.70" r="1.75" fill="#000"/>
<circle cx="434.26" cy="222.50" r="1.75" fill="#000"/>
<circle cx="449.29" cy="225.20" r="1.75" fill="#000"/>
<circle cx="464.32" cy="226.20" r="1.75" fill="#000"/>
<circle cx="494.38" cy="227.30" r="1.75" fill="#000"/>
<circle cx="509.41" cy="221.50" r="1.75" fill="#000"/>
<text x="23.0" y="303.8" font-size="11.7" font-weight="bold" fill="#000">E</text>
<rect x="78.80" y="291.80" width="37.40" height="8.20" fill="#fdd8b0"/>
<text transform="translate(97.10,297.65) scale(1.03,1)" font-size="6.4" text-anchor="middle" fill="#222">Apixaban</text>
<rect x="116.20" y="291.80" width="65.30" height="8.20" fill="#fcb06c"/>
<text transform="translate(149.20,297.65) scale(1.03,1)" font-size="6.4" text-anchor="middle" fill="#222">Apixaban</text>
<rect x="181.50" y="291.80" width="62.50" height="8.20" fill="#aefca0"/>
<text transform="translate(213.00,297.65) scale(1.03,1)" font-size="6.4" text-anchor="middle" fill="#222">Argatroban</text>
<text x="64.05" y="306.60" font-size="7.1" fill="#222" textLength="53.70" lengthAdjust="spacingAndGlyphs">(prophylactic dose)</text>
<text x="123.10" y="306.60" font-size="7.1" fill="#222" textLength="50.60" lengthAdjust="spacingAndGlyphs">(therapeutic dose)</text>
<rect x="103.60" y="317.00" width="48.00" height="9.20" fill="#b9e4f0"/>
<text x="106.30" y="323.50" font-size="6.7" fill="#222" textLength="42.60" lengthAdjust="spacingAndGlyphs">IVIG 1g/kg/bw</text>
<line x1="116.20" y1="326.20" x2="116.20" y2="330.50" stroke="#a6dcef" stroke-width="0.9" />
<polygon points="116.20,336.00 114.45,330.00 117.95,330.00" fill="#a6dcef"/>
<line x1="127.70" y1="326.20" x2="127.70" y2="330.50" stroke="#a6dcef" stroke-width="0.9" />
<polygon points="127.70,336.00 125.95,330.00 129.45,330.00" fill="#a6dcef"/>
<line x1="138.80" y1="326.20" x2="138.80" y2="330.50" stroke="#a6dcef" stroke-width="0.9" />
<polygon points="138.80,336.00 137.05,330.00 140.55,330.00" fill="#a6dcef"/>
<rect x="161.10" y="317.00" width="47.20" height="9.20" fill="#b9e4f0"/>
<text x="163.40" y="323.50" font-size="6.7" fill="#222" textLength="42.60" lengthAdjust="spacingAndGlyphs">IVIG 1g/kg/bw</text>
<line x1="173.50" y1="326.20" x2="173.50" y2="330.50" stroke="#a6dcef" stroke-width="0.9" />
<polygon points="173.50,336.00 171.75,330.00 175.25,330.00" fill="#a6dcef"/>
<line x1="184.80" y1="326.20" x2="184.80" y2="330.50" stroke="#a6dcef" stroke-width="0.9" />
<polygon points="184.80,336.00 183.05,330.00 186.55,330.00" fill="#a6dcef"/>
<line x1="196.40" y1="326.20" x2="196.40" y2="330.50" stroke="#a6dcef" stroke-width="0.9" />
<polygon points="196.40,336.00 194.65,330.00 198.15,330.00" fill="#a6dcef"/>
<rect x="38.90" y="375.61" width="206.30" height="11.44" fill="#f6caee"/>
<rect x="39.00" y="385.85" width="206.20" height="1.10" fill="#fcd8f8"/>
<rect x="39.00" y="376.21" width="1.00" height="10.74" fill="#fcd8f8"/>
<rect x="39.00" y="376.31" width="206.20" height="0.80" fill="#fcd8f8"/>
<line x1="39.00" y1="375.71" x2="245.20" y2="375.71" stroke="#111" stroke-width="0.8" stroke-dasharray="1.0 0.9"/>
<line x1="38.40" y1="313.81" x2="38.40" y2="388.35" stroke="#000" stroke-width="1.3" />
<line x1="35.40" y1="387.65" x2="38.40" y2="387.65" stroke="#000" stroke-width="1.1" />
<text transform="translate(31.70,390.15) scale(0.97,1)" font-size="8.4" text-anchor="end" fill="#222">0</text>
<line x1="35.40" y1="375.61" x2="38.40" y2="375.61" stroke="#000" stroke-width="1.1" />
<text transform="translate(31.70,378.11) scale(0.97,1)" font-size="8.4" text-anchor="end" fill="#222">50</text>
<line x1="35.40" y1="363.57" x2="38.40" y2="363.57" stroke="#000" stroke-width="1.1" />
<text transform="translate(31.70,366.07) scale(0.97,1)" font-size="8.4" text-anchor="end" fill="#222">100</text>
<line x1="35.40" y1="351.53" x2="38.40" y2="351.53" stroke="#000" stroke-width="1.1" />
<text transform="translate(31.70,354.03) scale(0.97,1)" font-size="8.4" text-anchor="end" fill="#222">150</text>
<line x1="35.40" y1="339.49" x2="38.40" y2="339.49" stroke="#000" stroke-width="1.1" />
<text transform="translate(31.70,341.99) scale(0.97,1)" font-size="8.4" text-anchor="end" fill="#222">200</text>
<line x1="35.40" y1="327.45" x2="38.40" y2="327.45" stroke="#000" stroke-width="1.1" />
<text transform="translate(31.70,329.95) scale(0.97,1)" font-size="8.4" text-anchor="end" fill="#222">250</text>
<line x1="35.40" y1="315.41" x2="38.40" y2="315.41" stroke="#000" stroke-width="1.1" />
<text transform="translate(31.70,317.91) scale(0.97,1)" font-size="8.4" text-anchor="end" fill="#222">300</text>
<line x1="37.80" y1="387.65" x2="44.20" y2="387.65" stroke="#000" stroke-width="1.4" />
<line x1="45.90" y1="387.65" x2="245.60" y2="387.65" stroke="#000" stroke-width="1.4" />
<line x1="43.45" y1="389.55" x2="44.05" y2="385.95" stroke="#000" stroke-width="1.0" />
<line x1="46.15" y1="389.55" x2="46.75" y2="385.95" stroke="#000" stroke-width="1.0" />
<line x1="38.30" y1="387.65" x2="38.30" y2="390.35" stroke="#000" stroke-width="1.0" />
<text transform="translate(38.30,400.45) scale(0.88,1)" font-size="8.5" text-anchor="middle" fill="#222">0</text>
<line x1="47.03" y1="387.65" x2="47.03" y2="390.35" stroke="#000" stroke-width="1.0" />
<text transform="translate(47.03,400.45) scale(0.88,1)" font-size="8.5" text-anchor="middle" fill="#222">8</text>
<line x1="58.52" y1="387.65" x2="58.52" y2="390.35" stroke="#000" stroke-width="1.0" />
<text transform="translate(58.52,400.45) scale(0.88,1)" font-size="8.5" text-anchor="middle" fill="#222">9</text>
<line x1="70.01" y1="387.65" x2="70.01" y2="390.35" stroke="#000" stroke-width="1.0" />
<text transform="translate(70.01,400.45) scale(0.88,1)" font-size="8.5" text-anchor="middle" fill="#222">10</text>
<line x1="81.50" y1="387.65" x2="81.50" y2="390.35" stroke="#000" stroke-width="1.0" />
<text transform="translate(81.50,400.45) scale(0.88,1)" font-size="8.5" text-anchor="middle" fill="#222">11</text>
<line x1="92.99" y1="387.65" x2="92.99" y2="390.35" stroke="#000" stroke-width="1.0" />
<text transform="translate(92.99,400.45) scale(0.88,1)" font-size="8.5" text-anchor="middle" fill="#222">12</text>
<line x1="104.48" y1="387.65" x2="104.48" y2="390.35" stroke="#000" stroke-width="1.0" />
<text transform="translate(104.48,400.45) scale(0.88,1)" font-size="8.5" text-anchor="middle" fill="#222">13</text>
<line x1="115.97" y1="387.65" x2="115.97" y2="390.35" stroke="#000" stroke-width="1.0" />
<text transform="translate(115.97,400.45) scale(0.88,1)" font-size="8.5" text-anchor="middle" fill="#222">14</text>
<line x1="127.46" y1="387.65" x2="127.46" y2="390.35" stroke="#000" stroke-width="1.0" />
<text transform="translate(127.46,400.45) scale(0.88,1)" font-size="8.5" text-anchor="middle" fill="#222">15</text>
<line x1="138.95" y1="387.65" x2="138.95" y2="390.35" stroke="#000" stroke-width="1.0" />
<text transform="translate(138.95,400.45) scale(0.88,1)" font-size="8.5" text-anchor="middle" fill="#222">16</text>
<line x1="150.44" y1="387.65" x2="150.44" y2="390.35" stroke="#000" stroke-width="1.0" />
<text transform="translate(150.44,400.45) scale(0.88,1)" font-size="8.5" text-anchor="middle" fill="#222">17</text>
<line x1="161.93" y1="387.65" x2="161.93" y2="390.35" stroke="#000" stroke-width="1.0" />
<text transform="translate(161.93,400.45) scale(0.88,1)" font-size="8.5" text-anchor="middle" fill="#222">18</text>
<line x1="173.42" y1="387.65" x2="173.42" y2="390.35" stroke="#000" stroke-width="1.0" />
<text transform="translate(173.42,400.45) scale(0.88,1)" font-size="8.5" text-anchor="middle" fill="#222">19</text>
<line x1="184.91" y1="387.65" x2="184.91" y2="390.35" stroke="#000" stroke-width="1.0" />
<text transform="translate(184.91,400.45) scale(0.88,1)" font-size="8.5" text-anchor="middle" fill="#222">20</text>
<line x1="196.40" y1="387.65" x2="196.40" y2="390.35" stroke="#000" stroke-width="1.0" />
<text transform="translate(196.40,400.45) scale(0.88,1)" font-size="8.5" text-anchor="middle" fill="#222">21</text>
<line x1="207.89" y1="387.65" x2="207.89" y2="390.35" stroke="#000" stroke-width="1.0" />
<text transform="translate(207.89,400.45) scale(0.88,1)" font-size="8.5" text-anchor="middle" fill="#222">22</text>
<line x1="219.38" y1="387.65" x2="219.38" y2="390.35" stroke="#000" stroke-width="1.0" />
<text transform="translate(219.38,400.45) scale(0.88,1)" font-size="8.5" text-anchor="middle" fill="#222">23</text>
<line x1="230.87" y1="387.65" x2="230.87" y2="390.35" stroke="#000" stroke-width="1.0" />
<text transform="translate(230.87,400.45) scale(0.88,1)" font-size="8.5" text-anchor="middle" fill="#222">24</text>
<line x1="242.36" y1="387.65" x2="242.36" y2="390.35" stroke="#000" stroke-width="1.0" />
<text transform="translate(242.36,400.45) scale(0.88,1)" font-size="8.5" text-anchor="middle" fill="#222">25</text>
<text transform="translate(12.30,382.70) rotate(-90)" font-size="8.5" fill="#222" textLength="31.10" lengthAdjust="spacingAndGlyphs">PLT-count</text>
<text transform="translate(12.30,350.60) rotate(-90)" font-size="8.5" fill="#222" textLength="15.70" lengthAdjust="spacingAndGlyphs">(x10</text>
<text transform="translate(8.90,334.70) rotate(-90)" font-size="6.6" fill="#222" textLength="3.50" lengthAdjust="spacingAndGlyphs">9</text>
<text transform="translate(12.30,331.20) rotate(-90)" font-size="8.5" fill="#222" textLength="13.30" lengthAdjust="spacingAndGlyphs">/µL)</text>
<text x="111.00" y="413.80" font-size="9.7" fill="#222" textLength="72.00" lengthAdjust="spacingAndGlyphs">Days after vaccination</text>
<text x="3.80" y="419.20" font-size="8.4" fill="#222" textLength="28.00" lengthAdjust="spacingAndGlyphs">Case #5</text>
<text x="46.05" y="318.80" font-size="7.1" fill="#222" textLength="55.10" lengthAdjust="spacingAndGlyphs">D-Dimer: 12 µg/mL</text>
<text x="45.15" y="325.85" font-size="7.1" fill="#222" textLength="56.10" lengthAdjust="spacingAndGlyphs">onset of symptoms:</text>
<text x="59.90" y="332.90" font-size="7.1" fill="#222" textLength="27.20" lengthAdjust="spacingAndGlyphs">headache</text>
<line x1="81.40" y1="335.70" x2="81.40" y2="363.70" stroke="#000" stroke-width="0.85" />
<polygon points="81.40,368.20 79.85,363.20 82.95,363.20" fill="#000"/>
<text transform="translate(40.30,345.80) scale(0.93,1)" font-size="7.1" text-anchor="start" fill="#222">ChAdOx1</text>
<text transform="translate(40.30,353.20) scale(0.93,1)" font-size="7.1" text-anchor="start" fill="#222">nCov-19</text>
<line x1="40.00" y1="360.60" x2="40.00" y2="366.30" stroke="#000" stroke-width="0.85" />
<polygon points="40.00,370.80 38.45,365.80 41.55,365.80" fill="#000"/>
<text transform="translate(103.60,343.20) scale(0.93,1)" font-size="7.1" text-anchor="start" fill="#222">D-Dimer:</text>
<text transform="translate(103.60,350.60) scale(0.93,1)" font-size="7.1" text-anchor="start" fill="#222">12 µg/mL</text>
<text transform="translate(103.60,358.00) scale(0.93,1)" font-size="7.1" text-anchor="start" fill="#222">CVST/PE</text>
<line x1="115.80" y1="361.60" x2="115.80" y2="368.30" stroke="#000" stroke-width="0.85" />
<polygon points="115.80,372.80 114.25,367.80 117.35,367.80" fill="#000"/>
<text transform="translate(149.20,343.20) scale(0.93,1)" font-size="7.1" text-anchor="middle" fill="#222">D-Dimer:</text>
<text transform="translate(149.20,350.60) scale(0.93,1)" font-size="7.1" text-anchor="middle" fill="#222">4 µg/mL</text>
<line x1="150.40" y1="353.00" x2="150.40" y2="359.50" stroke="#000" stroke-width="0.85" />
<polygon points="150.40,364.00 148.85,359.00 151.95,359.00" fill="#000"/>
<text transform="translate(190.40,342.40) scale(0.93,1)" font-size="7.1" text-anchor="middle" fill="#222">progression of</text>
<text transform="translate(190.40,350.00) scale(0.93,1)" font-size="7.1" text-anchor="middle" fill="#222">CVST</text>
<line x1="185.00" y1="352.70" x2="185.00" y2="360.30" stroke="#000" stroke-width="0.85" />
<polygon points="185.00,364.80 183.45,359.80 186.55,359.80" fill="#000"/>
<polyline fill="none" stroke="#000" stroke-width="1.35" stroke-linejoin="round" points="81.50,373.10 92.99,376.00 104.48,376.00 115.97,376.00 127.46,375.40 138.95,367.90 150.44,366.90 161.93,357.60 173.42,362.30 184.91,368.10 196.40,364.20 207.89,356.90 219.38,345.40 230.87,337.70 242.36,336.20"/>
<circle cx="81.50" cy="373.10" r="1.75" fill="#000"/>
<circle cx="92.99" cy="376.00" r="1.75" fill="#000"/>
<circle cx="104.48" cy="376.00" r="1.75" fill="#000"/>
<circle cx="115.97" cy="376.00" r="1.75" fill="#000"/>
<circle cx="127.46" cy="375.40" r="1.75" fill="#000"/>
<circle cx="138.95" cy="367.90" r="1.75" fill="#000"/>
<circle cx="150.44" cy="366.90" r="1.75" fill="#000"/>
<circle cx="161.93" cy="357.60" r="1.75" fill="#000"/>
<circle cx="173.42" cy="362.30" r="1.75" fill="#000"/>
<circle cx="184.91" cy="368.10" r="1.75" fill="#000"/>
<circle cx="196.40" cy="364.20" r="1.75" fill="#000"/>
<circle cx="207.89" cy="356.90" r="1.75" fill="#000"/>
<circle cx="219.38" cy="345.40" r="1.75" fill="#000"/>
<circle cx="230.87" cy="337.70" r="1.75" fill="#000"/>
<circle cx="242.36" cy="336.20" r="1.75" fill="#000"/>
</g>
<rect x="0" y="0" width="1.5" height="425" fill="#000"/><rect x="0" y="0" width="520" height="1.5" fill="#000"/><rect x="518.5" y="0" width="1.5" height="425" fill="#000"/><rect x="0" y="423.4" width="520" height="1.6" fill="#000"/>
</svg>
</body></html>
